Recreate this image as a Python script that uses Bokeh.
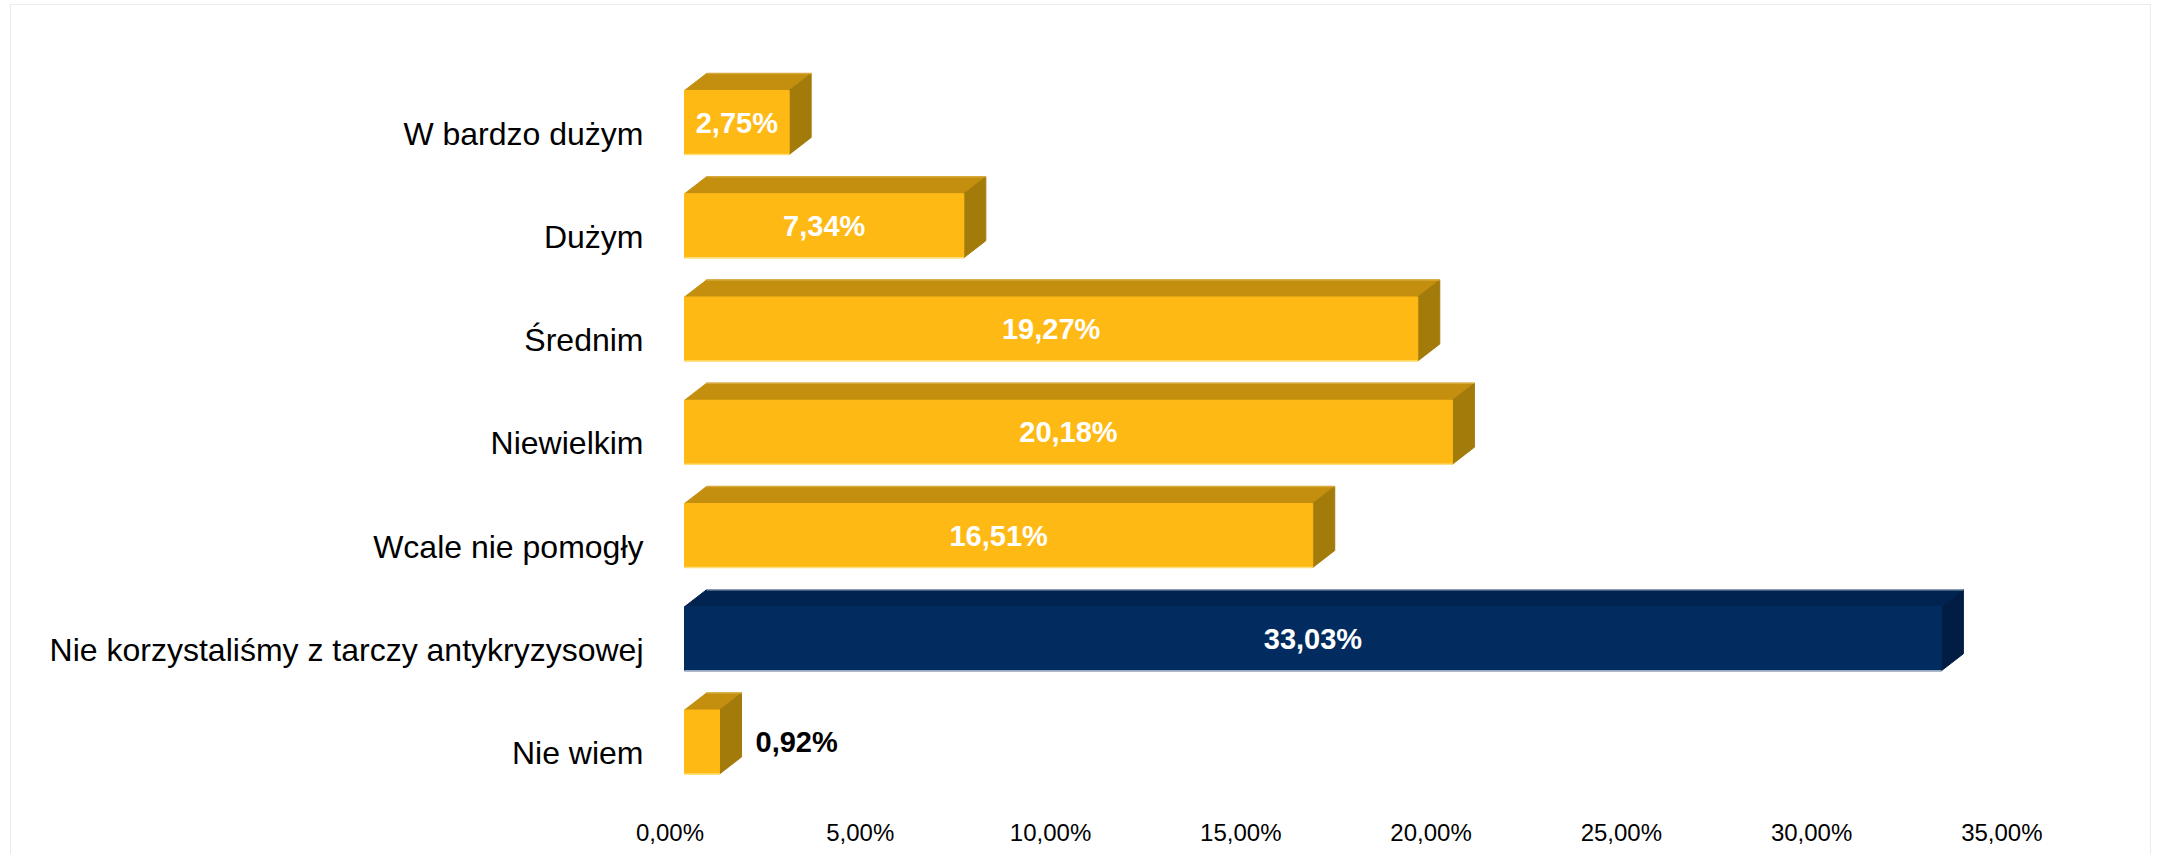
from bokeh.plotting import figure
from bokeh.models import Range1d, LinearAxis, FixedTicker, ColumnDataSource
from bokeh.embed import file_html
from bokeh.resources import INLINE
from bokeh.core.properties import value

# ---- data ----
categories = [
    "W bardzo dużym",
    "Dużym",
    "Średnim",
    "Niewielkim",
    "Wcale nie pomogły",
    "Nie korzystaliśmy z tarczy antykryzysowej",
    "Nie wiem",
]
values = [2.75, 7.34, 19.27, 20.18, 16.51, 33.03, 0.92]
highlighted = [False, False, False, False, False, True, False]
x_ticks = [0, 5, 10, 15, 20, 25, 30, 35]
x_tick_labels = ["0,00%", "5,00%", "10,00%", "15,00%", "20,00%", "25,00%", "30,00%", "35,00%"]

# ---- style ----
GOLD = ("#FFB914", "#C48F0E", "#A37B0B")   # front, top, side
NAVY = ("#022C5F", "#012350", "#011D44")
FONT = "Liberation Sans"

PX_X = 38.06     # pixels per percent
PX_Y = 103.25    # pixels per category
DX = 22 / PX_X   # 3D depth (x)
DY = 17 / PX_Y   # 3D depth (y)
HALF = 32 / PX_Y # half height of front face

x0, x1 = -0.5, 38.0
y_top = -(122 - 20) / PX_Y
y_bot = (800 - 122) / PX_Y

p = figure(width=2141, height=850,
           x_range=Range1d(x0, x1), y_range=Range1d(y_bot, y_top),
           output_backend="svg", toolbar_location=None,
           min_border_left=654, min_border_right=22,
           min_border_top=15, min_border_bottom=55,
           x_axis_location=None, y_axis_location=None)
p.grid.visible = False
p.outline_line_color = None
p.background_fill_color = "white"
p.border_fill_color = "white"
p.styles = {"border-left": "1px solid #ebebeb", "border-top": "1px solid #ebebeb",
            "border-right": "1px solid #ebebeb", "margin-left": "10px", "margin-top": "4px"}

p.extra_x_ranges = {"ticks": Range1d(x0 + 14.5 / PX_X, x1 + 14.5 / PX_X)}
p.extra_y_ranges = {"cats": Range1d(y_bot - 11 / PX_Y, y_top - 11 / PX_Y)}

xaxis = LinearAxis(x_range_name="ticks", ticker=FixedTicker(ticks=x_ticks),
                   major_label_overrides={t: l for t, l in zip(x_ticks, x_tick_labels)})
yaxis = LinearAxis(y_range_name="cats", ticker=FixedTicker(ticks=list(range(len(categories)))),
                   major_label_overrides={i: c for i, c in enumerate(categories)})
for ax, size, standoff in ((xaxis, "24px", 18), (yaxis, "32px", 22)):
    ax.axis_line_color = None
    ax.major_tick_line_color = None
    ax.minor_tick_line_color = None
    ax.major_tick_out = 0
    ax.major_tick_in = 0
    ax.major_label_text_font = FONT
    ax.major_label_text_font_size = size
    ax.major_label_text_color = "black"
    ax.major_label_standoff = standoff
p.add_layout(xaxis, "below")
p.add_layout(yaxis, "left")

# ---- 3D bars ----
front_xs, front_ys, front_c = [], [], []
top_xs, top_ys, top_c = [], [], []
side_xs, side_ys, side_c = [], [], []
for i, (v, h) in enumerate(zip(values, highlighted)):
    cf, ct, cs = NAVY if h else GOLD
    yt, yb = i - HALF, i + HALF
    front_xs.append([0, v, v, 0]); front_ys.append([yt, yt, yb, yb]); front_c.append(cf)
    top_xs.append([0, v, v + DX, DX]); top_ys.append([yt, yt, yt - DY, yt - DY]); top_c.append(ct)
    side_xs.append([v, v + DX, v + DX, v]); side_ys.append([yt, yt - DY, yb - DY, yb]); side_c.append(cs)

p.patches(top_xs, top_ys, fill_color=top_c, line_color=top_c, line_width=1)
p.patches(side_xs, side_ys, fill_color=side_c, line_color=side_c, line_width=1)
p.patches(front_xs, front_ys, fill_color=front_c, line_color=front_c, line_width=1)

# light highlight edges
edge_y = [i + HALF for i in range(len(values))]
edge_c = ["#9aa9c0" if h else "#FFE07A" for h in highlighted]
p.segment(x0=[0] * len(values), y0=edge_y, x1=list(values), y1=edge_y, line_color=edge_c, line_width=1.5)
top_edge_y = [i - HALF - DY for i in range(len(values))]
top_edge_c = ["#8a9bb5" if h else "#D7A83A" for h in highlighted]
p.segment(x0=[DX] * len(values), y0=top_edge_y, x1=[v + DX for v in values], y1=top_edge_y,
          line_color=top_edge_c, line_width=1.5)

# ---- data labels ----
fmt = [f"{v:.2f}".replace(".", ",") + "%" for v in values]
inside = [v >= 2 for v in values]
src_in = ColumnDataSource(dict(
    x=[v / 2 for v, ok in zip(values, inside) if ok],
    y=[i for i, ok in enumerate(inside) if ok],
    t=[f for f, ok in zip(fmt, inside) if ok]))
src_out = ColumnDataSource(dict(
    x=[v + DX for v, ok in zip(values, inside) if not ok],
    y=[i for i, ok in enumerate(inside) if not ok],
    t=[f for f, ok in zip(fmt, inside) if not ok]))
p.text(x="x", y="y", text="t", source=src_in, text_color="white",
       text_font=value(FONT), text_font_style="bold", text_font_size="29px",
       text_align="center", text_baseline="middle")
p.text(x="x", y="y", text="t", source=src_out, text_color="black", x_offset=14,
       text_font=value(FONT), text_font_style="bold", text_font_size="29px",
       text_align="left", text_baseline="middle")

open("out.html", "w").write(file_html(p, INLINE))
